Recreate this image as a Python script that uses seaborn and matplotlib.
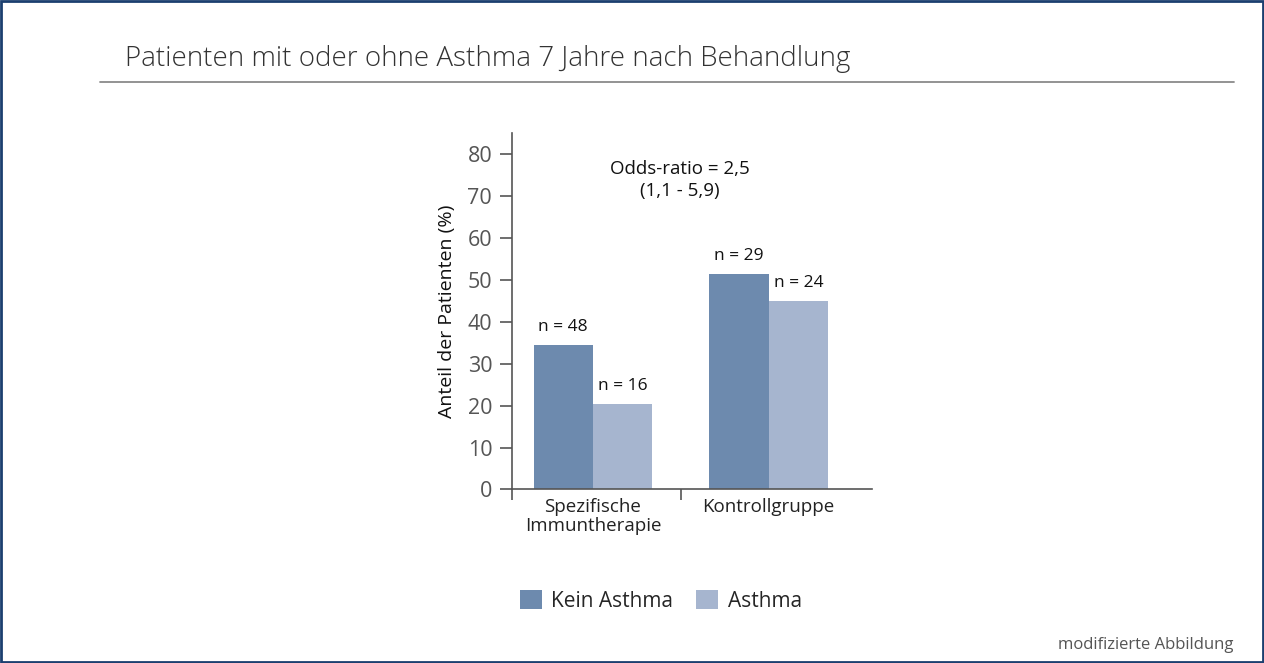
import pandas as pd
import seaborn as sns
import matplotlib.pyplot as plt
from matplotlib.lines import Line2D
from matplotlib.patches import Rectangle

groups = ["Spezifische\nImmuntherapie", "Kontrollgruppe"]
status = ["Kein Asthma", "Asthma"]
kein_asthma = [34.5, 51.5]
asthma = [20.5, 45.0]
n_kein = [48, 29]
n_asthma = [16, 24]
yticks = [0, 10, 20, 30, 40, 50, 60, 70, 80]

colors = ["#6d8aae", "#a6b5cf"]

df = pd.DataFrame({
    "gruppe": groups * 2,
    "status": [status[0]] * 2 + [status[1]] * 2,
    "anteil": kein_asthma + asthma,
})

sns.set_theme(style="white")
plt.rcParams["font.family"] = ["Open Sans", "DejaVu Sans"]

fig = plt.figure(figsize=(12.64, 6.63), dpi=100)
ax = fig.add_axes([0.4048, 0.2617, 0.2850, 0.5381])

sns.barplot(data=df, x="gruppe", y="anteil", hue="status", hue_order=status,
            palette=colors, width=0.676, gap=0, linewidth=0, saturation=1,
            ax=ax, legend=True)

ax.set_xlim(-0.463, 1.588)
ax.set_ylim(0, 85.1)
ax.set_yticks(yticks)
ax.set_xlabel("")
ax.set_ylabel("Anteil der Patienten (%)", fontsize=14, color="#111", labelpad=8)

for s in ["top", "right"]:
    ax.spines[s].set_visible(False)
for s in ["left", "bottom"]:
    ax.spines[s].set_color("#555")
    ax.spines[s].set_linewidth(1.2)

ax.tick_params(axis="y", length=9, width=1.2, color="#555", labelcolor="#555",
               labelsize=15.5, pad=5, left=True)
ax.tick_params(axis="x", length=0, labelsize=13.5, labelcolor="#222", pad=6)
for lab in ax.get_xticklabels():
    lab.set_linespacing(1.05)
ax.set_xticks([-0.463, 0.5], minor=True)
ax.tick_params(axis="x", which="minor", length=8, width=1.2, color="#555",
               direction="out", bottom=True)

# n-labels over bars
for container, ns in zip(ax.containers, [n_kein, n_asthma]):
    for bar, n in zip(container, ns):
        ax.annotate(f"n = {n}", (bar.get_x() + bar.get_width() / 2, bar.get_height()),
                    xytext=(0, 10), textcoords="offset points", ha="center",
                    va="baseline", fontsize=12.5, color="#111")

ax.text(0.494, 73.8, "Odds-ratio = 2,5\n(1,1 - 5,9)", ha="center", va="center",
        fontsize=13.5, color="#111", linespacing=1.3)

handles, labels = ax.get_legend_handles_labels()
ax.get_legend().remove()
fig.legend(handles, labels, loc="center", bbox_to_anchor=(661 / 1264, 1 - 601 / 663),
           ncol=2, frameon=False, fontsize=15, handlelength=1.05, handleheight=1.0,
           handletextpad=0.45, columnspacing=1.1)

fig.text(125 / 1264, 1 - 59 / 663, "Patienten mit oder ohne Asthma 7 Jahre nach Behandlung",
         fontsize=20, fontweight="light", color="#333", va="center", ha="left")
fig.add_artist(Line2D([100 / 1264, 1234 / 1264], [1 - 81.5 / 663] * 2,
                      color="#8a8a8a", lw=1.3, transform=fig.transFigure))
fig.text(1233 / 1264, 1 - 645 / 663, "modifizierte Abbildung", fontsize=12,
         color="#555", ha="right", va="center")
fig.add_artist(Rectangle((0.001, 0.0015), 0.998, 0.997, fill=False,
                         edgecolor="#1b3f6f", lw=2, transform=fig.transFigure))

fig.savefig("out.png", dpi=100)
